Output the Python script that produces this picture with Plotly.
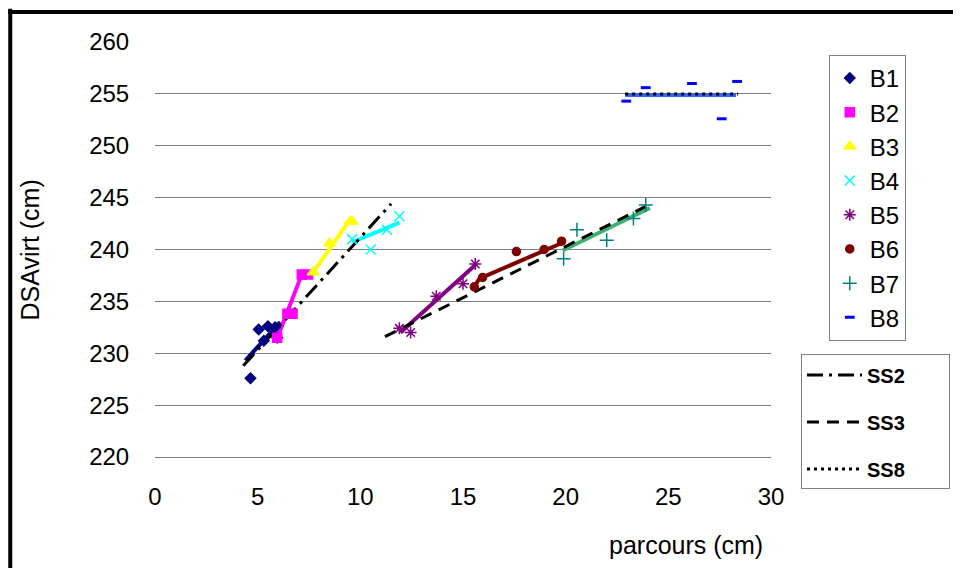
import plotly.graph_objects as go

# ── data ─────────────────────────────────────────────────────────────
groups = ["B1", "B2", "B3", "B4", "B5", "B6", "B7", "B8"]

b1_x = [4.65, 5.05, 5.3, 5.5, 5.85, 5.95]
b1_y = [227.6, 232.3, 231.2, 232.6, 232.5, 231.5]
b2_x = [5.95, 6.45, 6.7, 7.15, 7.45]
b2_y = [231.5, 233.8, 233.8, 237.6, 237.6]
b3_x = [7.7, 8.5, 9.5, 9.6]
b3_y = [237.8, 240.6, 242.7, 242.7]
b4_x = [9.6, 10.5, 11.3, 11.9]
b4_y = [241.0, 240.0, 241.9, 243.2]
b5_x = [11.9, 12.45, 13.7, 15.0, 15.6]
b5_y = [232.4, 232.0, 235.5, 236.7, 238.6]
b6_x = [15.55, 15.95, 17.6, 18.95, 19.8]
b6_y = [236.4, 237.3, 239.8, 240.0, 240.8]
b7_x = [19.9, 20.55, 22.0, 23.3, 23.9]
b7_y = [239.1, 241.9, 240.9, 243.0, 244.3]
b8_x = [22.95, 23.9, 26.15, 27.6, 28.35]
b8_y = [254.3, 255.6, 256.0, 252.6, 256.2]

# per-group fitted lines
b1_fit_x, b1_fit_y = [4.4, 6.1], [229.3, 233.0]
b2_fit_x, b2_fit_y = [5.9, 6.4, 7.15, 7.5], [231.2, 233.8, 237.6, 237.6]
b3_fit_x, b3_fit_y = [7.7, 9.5], [237.8, 242.9]
b4_fit_x, b4_fit_y = [9.6, 11.9], [240.7, 242.6]
b5_fit_x, b5_fit_y = [11.95, 15.6], [232.0, 238.5]
b6_fit_x, b6_fit_y = [15.55, 15.8, 19.9], [236.4, 237.2, 240.7]
b7_fit_x, b7_fit_y = [19.85, 24.1], [239.9, 244.0]
b8_fit_x, b8_fit_y = [22.9, 28.3], [254.9, 254.9]

# SS reference lines
ss2_x, ss2_y = [4.3, 11.5], [228.8, 244.4]
ss3_x, ss3_y = [11.2, 24.15], [231.6, 244.4]
ss8_x, ss8_y = [22.9, 28.4], [255.0, 255.0]

x_ticks = [0, 5, 10, 15, 20, 25, 30]
y_ticks = [220, 225, 230, 235, 240, 245, 250, 255, 260]

points = [(b1_x, b1_y), (b2_x, b2_y), (b3_x, b3_y), (b4_x, b4_y),
          (b5_x, b5_y), (b6_x, b6_y), (b7_x, b7_y), (b8_x, b8_y)]
fits = [(b1_fit_x, b1_fit_y), (b2_fit_x, b2_fit_y), (b3_fit_x, b3_fit_y),
        (b4_fit_x, b4_fit_y), (b5_fit_x, b5_fit_y), (b6_fit_x, b6_fit_y),
        (b7_fit_x, b7_fit_y), (b8_fit_x, b8_fit_y)]

marker_colors = ["#000080", "#FF00FF", "#FFFF00", "#00FFFF",
                 "#800080", "#800000", "#008080", "#0000FF"]
line_colors = ["#000080", "#FF00FF", "#FFFF00", "#00FFFF",
               "#800080", "#800000", "#3CB371", "#3366FF"]
symbols = ["diamond", "square", "triangle-up", "x-thin-open",
           "asterisk-open", "circle", "cross-thin-open", "line-ew-open"]
sizes = [8, 9, 10, 10, 10, 8, 10, 7]
widths = [1.5, 1.5, 1.5, 1.5, 1.5, 1.5, 1.5, 3]

fig = go.Figure()

# group lines (drawn first, no legend entry)
for (fx, fy), col in zip(fits, line_colors):
    fig.add_trace(go.Scatter(x=fx, y=fy, mode="lines", showlegend=False,
                             line=dict(color=col, width=4), hoverinfo="skip"))

# SS lines, each in its own group so the rows can be spaced out
pad = "&nbsp;" * 7
ss_lines = [("SS2", ss2_x, ss2_y, "16px,6px,3px,6px"),
            ("SS3", ss3_x, ss3_y, "12px,8px"),
            ("SS8", ss8_x, ss8_y, "3px,4px")]
for name, sx, sy, dash in ss_lines:
    fig.add_trace(go.Scatter(x=sx, y=sy, mode="lines", name=f"<b>{name}</b>{pad}",
                             legend="legend2", legendgroup=name,
                             line=dict(color="black", width=3, dash=dash)))

# markers
for name, (mx, my), col, sym, sz, w in zip(groups, points, marker_colors,
                                           symbols, sizes, widths):
    fig.add_trace(go.Scatter(
        x=mx, y=my, mode="markers", name=name, legend="legend",
        marker=dict(color=col, symbol=sym, size=sz,
                    line=dict(color=col, width=w)),
    ))

# frame lines (top and left), paper coords relative to the plot area
fig.add_shape(type="line", xref="paper", yref="paper", x0=-0.24, x1=1.31,
              y0=1.072, y1=1.072, line=dict(color="black", width=4))
fig.add_shape(type="line", xref="paper", yref="paper", x0=-0.235, x1=-0.235,
              y0=1.08, y1=-0.3, line=dict(color="black", width=4))

fig.add_annotation(text="parcours (cm)", xref="paper", yref="paper",
                   x=0.862, y=-0.213, xanchor="center", yanchor="middle",
                   showarrow=False, font=dict(size=25, color="black"))
fig.add_annotation(text="DSAvirt (cm)", xref="paper", yref="paper",
                   x=-0.203, y=0.5, xanchor="center", yanchor="middle",
                   textangle=-90, showarrow=False,
                   font=dict(size=25, color="black"))

fig.update_layout(
    width=953, height=560,
    paper_bgcolor="white", plot_bgcolor="white",
    margin=dict(l=147, r=189, t=34, b=111),
    font=dict(family="Arial, Liberation Sans, sans-serif", color="black"),
    xaxis=dict(range=[0, 30], tickvals=x_ticks, showgrid=False, zeroline=False,
               showline=True, linecolor="#808080", linewidth=1,
               ticks="outside", ticklen=18, tickcolor="white",
               tickfont=dict(size=24)),
    yaxis=dict(range=[220, 260], tickvals=y_ticks, showgrid=True,
               gridcolor="#808080", gridwidth=1, zeroline=False,
               showline=False, ticks="outside", ticklen=20, tickcolor="white",
               tickfont=dict(size=24)),
    legend=dict(x=1.092, y=0.969, xanchor="left", yanchor="top",
                bordercolor="#808080", borderwidth=1, bgcolor="white",
                font=dict(size=24), tracegroupgap=0, itemsizing="trace"),
    legend2=dict(x=1.2885, y=0.247, xanchor="right", yanchor="top",
                 bordercolor="#808080", borderwidth=1, bgcolor="white",
                 font=dict(size=20), itemwidth=55, tracegroupgap=18),
)

fig.write_html("out.html")
